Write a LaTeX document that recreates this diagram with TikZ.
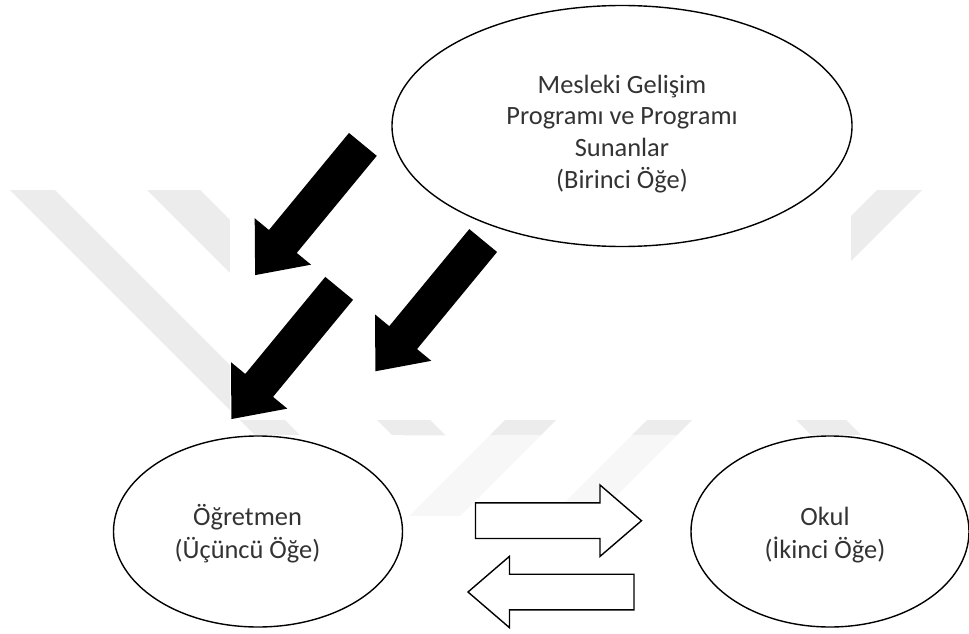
\documentclass[tikz,border=0pt]{standalone}
\usepackage{fontspec}
\setmainfont{Carlito}
\usetikzlibrary{shapes.geometric}
\definecolor{wmgray}{RGB}{236,236,236}
\definecolor{txt}{RGB}{51,51,51}
\tikzset{
  oval/.style={ellipse, draw=black, line width=1.4pt, fill=white, inner sep=0pt},
  lbl/.style={align=center, text=txt, inner sep=0pt},
  toptext/.style={lbl, font=\fontsize{26.4}{31.8}\selectfont},
  lowtext/.style={lbl, font=\fontsize{26.4}{33}\selectfont},
  solidarrow/.pic={
    \fill[black] (-84.7,-18) -- (41.1,-18) -- (41.1,-36.5) -- (84.7,0)
      -- (41.1,36.5) -- (41.1,18) -- (-84.7,18) -- cycle;
  },
  hollowarrow/.pic={
    \filldraw[fill=white, draw=black, line width=1.4pt, line join=miter]
      (-83,-17.8) -- (41.5,-17.8) -- (41.5,-35.7) -- (83,0)
      -- (41.5,35.7) -- (41.5,17.8) -- (-83,17.8) -- cycle;
  }
}
\begin{document}
\begin{tikzpicture}[x=1pt, y=-1pt]
\useasboundingbox (0,0) rectangle (969,634);
\fill[white] (0,0) rectangle (969,634);

% faint background emblem: falling stripes
\begin{scope}
  \clip (0,190) rectangle (969,435);
  \fill[wmgray] (10,190) -- (55,190) -- (499,634) -- (454,634) -- cycle;
  \fill[wmgray] (147,190) -- (200,190) -- (644,634) -- (591,634) -- cycle;
  \fill[wmgray] (566,190) -- (616,190) -- (1060,634) -- (1010,634) -- cycle;
\end{scope}
% rising stripes
\begin{scope}
  \clip (0,190) rectangle (969,515);
  \fill[wmgray] (877,190) -- (922,190) -- (478,634) -- (433,634) -- cycle;
  \fill[wmgray] (735,190) -- (786,190) -- (342,634) -- (291,634) -- cycle;
\end{scope}
\fill[white] (230,0) rectangle (851,420);
\fill[white] (105,435) rectangle (405,634);
\fill[white] (689,435) rectangle (969,634);
\fill[white, opacity=0.6] (405,435) rectangle (689,634);

% the three elements
\node[oval, minimum width=460pt, minimum height=241pt] (first) at (622,126) {};
\node[oval, minimum width=289pt, minimum height=191pt] (teacher) at (258,531.5) {};
\node[oval, minimum width=278pt, minimum height=191pt] (school) at (830,531.5) {};

\node[toptext] (firstlbl) at ([yshift=-8pt]first.center)
  {Mesleki Gelişim\\Programı ve Programı\\Sunanlar\\(Birinci Öğe)};
\node[lowtext] (teacherlbl) at ([xshift=-10.5pt, yshift=-2pt]teacher.center)
  {Öğretmen\\(Üçüncü Öğe)};
\node[lowtext] (schoollbl) at ([xshift=-5pt, yshift=-3.5pt]school.center)
  {Okul\\(İkinci Öğe)};

% influence of the programme on the teacher
\pic[rotate=230.5] (inf1) at (309,209.75) {solidarrow};
\pic[rotate=230.5] (inf2) at (429.3,305.9) {solidarrow};
\pic[rotate=230.5] (inf3) at (285.3,353.7) {solidarrow};

% two-way exchange between teacher and school
\pic (toschool) at (558.5,520.7) {hollowarrow};
\pic[rotate=180] (toteacher) at (551,592) {hollowarrow};
\end{tikzpicture}
\end{document}
